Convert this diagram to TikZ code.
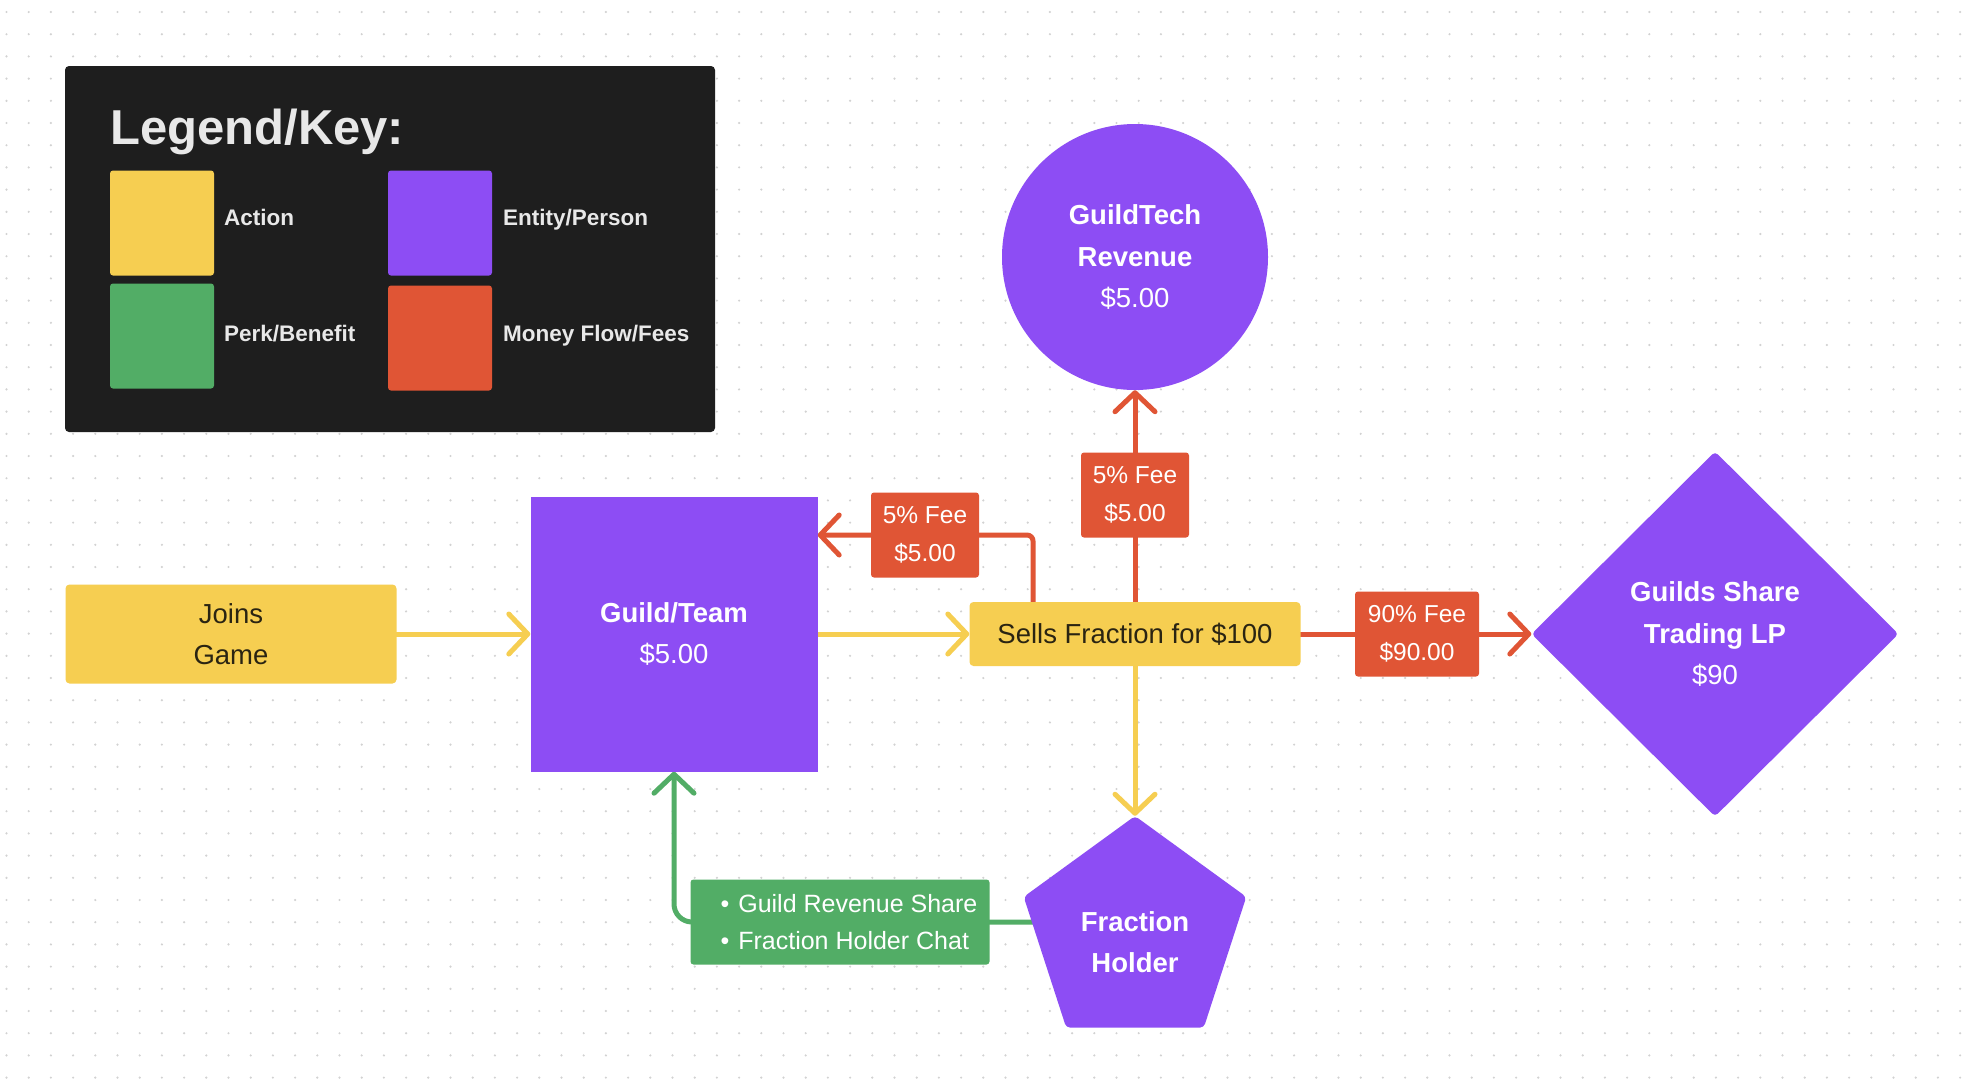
\documentclass[tikz,border=0pt]{standalone}
\usepackage{fontspec}
\setmainfont{Liberation Sans}
\usetikzlibrary{arrows.meta,shapes.geometric,calc}
\definecolor{cyellow}{HTML}{F6CE51}
\definecolor{cpurple}{HTML}{8D4DF4}
\definecolor{cgreen}{HTML}{52AD66}
\definecolor{corange}{HTML}{E05535}
\definecolor{cdark}{HTML}{1E1E1E}
\definecolor{cltext}{HTML}{E8E8E8}
\definecolor{ctext}{HTML}{2A2412}
\definecolor{cdot}{HTML}{D2D2D2}
\pgfdeclarelayer{bg}
\pgfsetlayers{bg,main}
\tikzset{
  base/.style={inner sep=0pt, align=center, font=\fontsize{27.5}{41.5}\selectfont, text=white},
  actionbox/.style={base, fill=cyellow, rounded corners=4pt, text=ctext},
  entitybox/.style={base, fill=cpurple},
  feebox/.style={base, fill=corange, rounded corners=3pt, font=\fontsize{24.5}{37.5}\selectfont},
  perkbox/.style={base, fill=cgreen, rounded corners=3pt, font=\fontsize{25}{37}\selectfont, align=left},
  keysq/.style={rounded corners=3pt, minimum width=104pt, minimum height=105pt, inner sep=0pt},
  keylabel/.style={anchor=base west, text=cltext, font=\fontsize{22.5}{26}\selectfont\bfseries, inner sep=0pt},
  conn/.style={line width=5pt, line cap=round, line join=round, -{Straight Barb[length=19pt,width=40pt,round]}},
  yconn/.style={conn, draw=cyellow},
  oconn/.style={conn, draw=corange},
  gconn/.style={conn, draw=cgreen},
}
\begin{document}
\begin{tikzpicture}[x=1pt,y=-1pt]
\useasboundingbox (0,0) rectangle (1966,1088);
\begin{pgfonlayer}{bg}
\fill[white] (0,0) rectangle (1966,1088);
\foreach \i in {0,...,88} {
  \foreach \j in {0,...,48} {
    \fill[cdot] (6.5+\i*22.2, 12+\j*22.2) circle (1.2pt);
  }
}
\end{pgfonlayer}

% Legend
\node[fill=cdark, rounded corners=4pt, minimum width=650pt, minimum height=366pt, inner sep=0pt] (legend) at (390,249) {};
\node[anchor=base west, inner sep=0pt, text=cltext, font=\fontsize{49}{56}\selectfont\bfseries] (legtitle) at (110,144) {Legend/Key:};
\node[keysq, fill=cyellow] (kaction) at (162,223) {};
\node[keysq, fill=cpurple] (kentity) at (440,223) {};
\node[keysq, fill=cgreen] (kperk) at (162,336) {};
\node[keysq, fill=corange] (kmoney) at (440,338) {};
\node[keylabel] (laction) at (224,225) {Action};
\node[keylabel] (lentity) at (503,225) {Entity/Person};
\node[keylabel] (lperk) at (224,341) {Perk/Benefit};
\node[keylabel] (lmoney) at (503,341) {Money Flow/Fees};

% Main nodes
\node[actionbox, minimum width=331pt, minimum height=99pt] (join) at (231,634) {Joins\\Game};
\node[entitybox, minimum width=287pt, minimum height=275pt] (guild) at (674,634) {\textbf{Guild/Team}\\\$5.00};
\node[actionbox, minimum width=331pt, minimum height=64pt] (sells) at (1135,634) {Sells Fraction for \$100};
\node[entitybox, circle, minimum size=266pt] (gt) at (1135,257) {\textbf{GuildTech}\\\textbf{Revenue}\\\$5.00};
\node[entitybox, diamond, minimum width=367pt, minimum height=365pt, rounded corners=4pt] (lp) at (1715,634) {\textbf{Guilds Share}\\\textbf{Trading LP}\\\$90};
\node[entitybox, regular polygon, regular polygon sides=5, minimum size=234pt, rounded corners=4pt,
      label={[base, yshift=-9pt]center:\textbf{Fraction}\\\textbf{Holder}}] (fh) at (1135,933) {};

% Labels on connectors
\node[feebox, minimum width=108pt, minimum height=85pt] (feegt) at (1135,495) {5\% Fee\\\$5.00};
\node[feebox, minimum width=108pt, minimum height=85pt] (feeguild) at (925,535) {5\% Fee\\\$5.00};
\node[feebox, minimum width=124pt, minimum height=85pt] (feelp) at (1417,634) {90\% Fee\\\$90.00};
\node[perkbox, minimum width=299pt, minimum height=85pt] (perks) at (840,922) {\hspace*{18pt}\textbullet\hspace{9pt}Guild Revenue Share\\\hspace*{18pt}\textbullet\hspace{9pt}Fraction Holder Chat};

% Connectors
\begin{pgfonlayer}{bg}
\draw[yconn] (join.east) -- (guild.west);
\draw[yconn] (guild.east) -- (sells.west);
\draw[yconn] (sells.south) -- (fh.north);
\draw[oconn] (sells.north) -- (gt.south);
\draw[oconn, rounded corners=6pt] ([xshift=-102pt]sells.north) |- (guild.east |- feeguild.center);
\draw[oconn] (sells.east) -- (lp.west);
\draw[gconn, rounded corners=18pt] (fh.center |- perks.center) -| (guild.south);
\end{pgfonlayer}
\end{tikzpicture}
\end{document}
